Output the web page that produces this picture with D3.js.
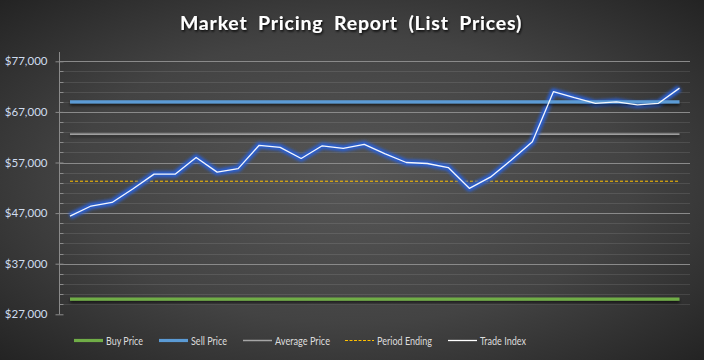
<!DOCTYPE html>
<html>
<head>
<meta charset="utf-8">
<script src="https://cdn.jsdelivr.net/npm/d3@7"></script>
<style>
html,body{margin:0;padding:0;background:#2a2a2a;}
svg{display:block;}
</style>
</head>
<body>
<script>
// ---- data ----
const categories = d3.range(1, 31).map(i => "P" + i);
const tradeIndex = [46400, 48400, 49100, 51800, 54700, 54700, 58000, 55100, 55800, 60400,
                    60000, 57800, 60300, 59800, 60600, 58700, 57000, 56800, 56000, 51900,
                    54100, 57500, 61100, 71000, 69800, 68700, 69000, 68400, 68700, 71700];
const buyPrice = 30000;
const sellPrice = 69000;
const averagePrice = 62600;
const periodEnding = 53300;
const yTicks = [27000, 37000, 47000, 57000, 67000, 77000];
const seriesNames = ["Buy Price", "Sell Price", "Average Price", "Period Ending", "Trade Index"];
const titleText = "Market Pricing Report (List Prices)";

// ---- layout ----
const W = 704, H = 360;
const left = 59.5, right = 690;
const svg = d3.select("body").append("svg").attr("width", W).attr("height", H);
const defs = svg.append("defs");

const rg = defs.append("radialGradient").attr("id", "bg")
  .attr("cx", "50%").attr("cy", "50%").attr("r", "72%");
rg.append("stop").attr("offset", "0%").attr("stop-color", "#565656");
rg.append("stop").attr("offset", "55%").attr("stop-color", "#434343");
rg.append("stop").attr("offset", "100%").attr("stop-color", "#222222");
svg.append("rect").attr("width", W).attr("height", H).attr("fill", "url(#bg)");

const glow = defs.append("filter").attr("id", "glow")
  .attr("filterUnits", "userSpaceOnUse").attr("x", 0).attr("y", 0).attr("width", W).attr("height", H);
glow.append("feGaussianBlur").attr("stdDeviation", 1.8);

const sh = defs.append("filter").attr("id", "shadow")
  .attr("filterUnits", "userSpaceOnUse").attr("x", 0).attr("y", 0).attr("width", W).attr("height", H);
sh.append("feDropShadow").attr("dx", 0).attr("dy", 2).attr("stdDeviation", 1.5)
  .attr("flood-color", "#000").attr("flood-opacity", 0.7);

const tsh = defs.append("filter").attr("id", "tshadow")
  .attr("filterUnits", "userSpaceOnUse").attr("x", 0).attr("y", 0).attr("width", W).attr("height", H);
tsh.append("feDropShadow").attr("dx", 1).attr("dy", 1.5).attr("stdDeviation", 0.8)
  .attr("flood-color", "#000").attr("flood-opacity", 0.9);

const x = d3.scaleBand().domain(categories).range([left, right]);
const cx = d => x(d) + x.bandwidth() / 2;
const y = d3.scaleLinear().domain([27000, 77000]).range([314.3, 61.3]);

// minor gridlines
const minor = d3.range(29000, 77000, 2000).filter(v => (v - 27000) % 10000 !== 0);
svg.append("g").selectAll("line").data(minor).join("line")
  .attr("x1", left).attr("x2", right)
  .attr("y1", d => Math.round(y(d)) + 0.5).attr("y2", d => Math.round(y(d)) + 0.5)
  .attr("stroke", "#ffffff").attr("stroke-opacity", 0.1).attr("stroke-width", 1);
// major gridlines
svg.append("g").selectAll("line").data(yTicks.slice(1)).join("line")
  .attr("x1", left).attr("x2", right)
  .attr("y1", d => Math.round(y(d)) + 0.5).attr("y2", d => Math.round(y(d)) + 0.5)
  .attr("stroke", "#8a8a8a").attr("stroke-width", 1);

// y axis
const yAxis = d3.axisLeft(y).tickValues(yTicks)
  .tickFormat(d => "$" + d3.format(",")(d)).tickSize(4).tickPadding(8);
const ga = svg.append("g").attr("transform", `translate(${left},0)`).call(yAxis);
ga.select(".domain").remove();
ga.selectAll(".tick line").attr("stroke", "#8a8a8a").attr("x2", 4).attr("x1", -4);
ga.selectAll(".tick text").attr("fill", "#cfdcee")
  .style("font-family", "Lato, 'Open Sans', sans-serif").style("font-size", "11.5px");
svg.append("line").attr("x1", left).attr("x2", left).attr("y1", 52).attr("y2", y(27000))
  .attr("stroke", "#8a8a8a");
svg.append("g").selectAll("line").data(d3.range(29000, 79000, 2000).filter(v => (v - 27000) % 10000 !== 0)).join("line")
  .attr("x1", left).attr("x2", left + 4)
  .attr("y1", d => Math.round(y(d)) + 0.5).attr("y2", d => Math.round(y(d)) + 0.5)
  .attr("stroke", "#8a8a8a");

// constant series
const x0 = cx(categories[0]), x1 = cx(categories[categories.length - 1]);
function hline(v, color, width, dash, filter) {
  const l = svg.append("line").attr("x1", x0).attr("x2", x1)
    .attr("y1", y(v)).attr("y2", y(v))
    .attr("stroke", color).attr("stroke-width", width);
  if (dash) l.attr("stroke-dasharray", dash);
  if (filter) l.attr("filter", filter);
}
hline(buyPrice, "#70ad47", 3.2, null, "url(#shadow)");
hline(averagePrice, "#bdbdbd", 1.4, null, "url(#shadow)");
hline(periodEnding, "#ffc000", 1, "3,2", null);

// trade index line with glow
const line = d3.line().x((d, i) => cx(categories[i])).y(d => y(d));
svg.append("path").datum(tradeIndex).attr("d", line).attr("fill", "none")
  .attr("stroke", "#2b5fd0").attr("stroke-width", 6.5).attr("stroke-linejoin", "round")
  .attr("opacity", 1).attr("filter", "url(#glow)");
hline(sellPrice, "#5b9bd5", 3.2, null, "url(#shadow)");
svg.append("path").datum(tradeIndex).attr("d", line).attr("fill", "none")
  .attr("stroke", "#ffffff").attr("stroke-width", 1.3).attr("stroke-linejoin", "round")
  .attr("stroke-opacity", 0.95);

// title
svg.append("text").attr("x", 351).attr("y", 30).attr("text-anchor", "middle")
  .attr("fill", "#ffffff").attr("filter", "url(#tshadow)")
  .style("font-family", "Lato, 'Open Sans', sans-serif").style("font-weight", "bold")
  .style("font-size", "19.5px").style("word-spacing", "5px").style("letter-spacing", "0.8px")
  .text(titleText);

// legend
const legend = [
  {name: seriesNames[0], color: "#70ad47", w: 3.2, dash: null, lx: 74, tw: 37},
  {name: seriesNames[1], color: "#5b9bd5", w: 3.2, dash: null, lx: 159, tw: 36},
  {name: seriesNames[2], color: "#a6a6a6", w: 1.5, dash: null, lx: 243, tw: 55},
  {name: seriesNames[3], color: "#ffc000", w: 1, dash: "3,1.5", lx: 345, tw: 55},
  {name: seriesNames[4], color: "#ffffff", w: 1.3, dash: null, lx: 448, tw: 46}
];
const lg = svg.append("g");
legend.forEach(d => {
  const l = lg.append("line").attr("x1", d.lx).attr("x2", d.lx + 29)
    .attr("y1", 340.5).attr("y2", 340.5).attr("stroke", d.color).attr("stroke-width", d.w);
  if (d.dash) l.attr("stroke-dasharray", d.dash);
  lg.append("text").attr("x", d.lx + 32).attr("y", 344.8).attr("fill", "#dcdcdc")
    .attr("textLength", d.tw).attr("lengthAdjust", "spacingAndGlyphs")
    .style("font-family", "Lato, 'Open Sans', sans-serif").style("font-size", "12px")
    .text(d.name);
});
</script>
</body>
</html>
